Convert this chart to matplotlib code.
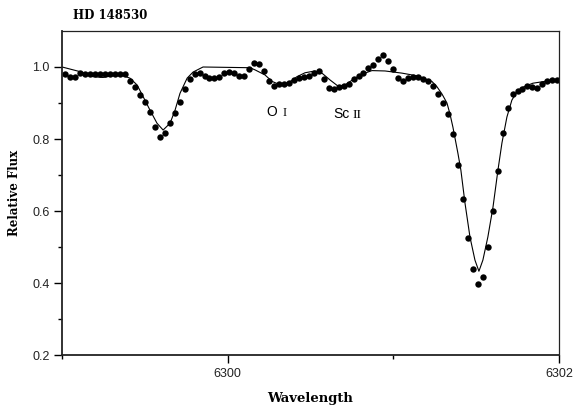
import matplotlib
matplotlib.use('Agg')
import matplotlib.pyplot as plt
from matplotlib.ticker import FixedLocator

# observed spectrum (dots)
wave_obs = [6299.02, 6299.05, 6299.08, 6299.11, 6299.14, 6299.17, 6299.20, 6299.23, 6299.26, 6299.29,
            6299.32, 6299.35, 6299.38, 6299.41, 6299.44, 6299.47, 6299.50, 6299.53, 6299.56, 6299.59,
            6299.62, 6299.65, 6299.68, 6299.71, 6299.74, 6299.77, 6299.80, 6299.83, 6299.86, 6299.89,
            6299.92, 6299.95, 6299.98, 6300.01, 6300.04, 6300.07, 6300.10, 6300.13, 6300.16, 6300.19,
            6300.22, 6300.25, 6300.28, 6300.31, 6300.34, 6300.37, 6300.40, 6300.43, 6300.46, 6300.49,
            6300.52, 6300.55, 6300.58, 6300.61, 6300.64, 6300.67, 6300.70, 6300.73, 6300.76, 6300.79,
            6300.82, 6300.85, 6300.88, 6300.91, 6300.94, 6300.97, 6301.00, 6301.03, 6301.06, 6301.09,
            6301.12, 6301.15, 6301.18, 6301.21, 6301.24, 6301.27, 6301.30, 6301.33, 6301.36, 6301.39,
            6301.42, 6301.45, 6301.48, 6301.51, 6301.54, 6301.57, 6301.60, 6301.63, 6301.66, 6301.69,
            6301.72, 6301.75, 6301.78, 6301.81, 6301.84, 6301.87, 6301.90, 6301.93, 6301.96, 6301.99]
flux_obs = [0.981, 0.972, 0.972, 0.983, 0.981, 0.980, 0.980, 0.980, 0.980, 0.980,
            0.980, 0.980, 0.980, 0.961, 0.944, 0.922, 0.903, 0.875, 0.833, 0.806,
            0.817, 0.844, 0.872, 0.903, 0.939, 0.967, 0.981, 0.983, 0.975, 0.969,
            0.969, 0.972, 0.983, 0.986, 0.983, 0.975, 0.975, 0.994, 1.011, 1.008,
            0.989, 0.961, 0.947, 0.953, 0.953, 0.956, 0.964, 0.969, 0.972, 0.975,
            0.983, 0.989, 0.967, 0.942, 0.939, 0.944, 0.947, 0.954, 0.967, 0.976,
            0.983, 0.996, 1.006, 1.022, 1.032, 1.017, 0.994, 0.969, 0.962, 0.969,
            0.972, 0.972, 0.967, 0.960, 0.947, 0.925, 0.900, 0.869, 0.814, 0.728,
            0.633, 0.525, 0.439, 0.397, 0.417, 0.500, 0.600, 0.711, 0.817, 0.886,
            0.925, 0.933, 0.940, 0.947, 0.944, 0.942, 0.953, 0.961, 0.964, 0.964]

# synthetic spectrum (line)
wave_syn = [6299.000, 6299.109, 6299.187, 6299.247, 6299.308, 6299.368, 6299.410, 6299.453,
            6299.489, 6299.531, 6299.573, 6299.610, 6299.652, 6299.682, 6299.712, 6299.755,
            6299.791, 6299.851, 6300.135, 6300.165, 6300.225, 6300.268, 6300.304, 6300.364,
            6300.418, 6300.467, 6300.527, 6300.569, 6300.618, 6300.666, 6300.708, 6300.769,
            6300.829, 6300.871, 6300.950, 6301.052, 6301.149, 6301.233, 6301.264, 6301.294,
            6301.324, 6301.342, 6301.360, 6301.390, 6301.408, 6301.433, 6301.463, 6301.493,
            6301.517, 6301.541, 6301.571, 6301.602, 6301.632, 6301.656, 6301.686, 6301.716,
            6301.746, 6301.783, 6301.843, 6301.928, 6302.000]
flux_syn = [1.000, 0.987, 0.973, 0.971, 0.976, 0.976, 0.969, 0.950,
            0.918, 0.880, 0.844, 0.825, 0.844, 0.880, 0.927, 0.969,
            0.986, 1.000, 0.998, 0.992, 0.978, 0.960, 0.953, 0.955,
            0.973, 0.984, 0.989, 0.983, 0.964, 0.947, 0.950, 0.969,
            0.983, 0.990, 0.989, 0.983, 0.975, 0.960, 0.945, 0.925,
            0.900, 0.870, 0.833, 0.761, 0.714, 0.622, 0.528, 0.464,
            0.433, 0.464, 0.528, 0.611, 0.714, 0.789, 0.861, 0.908,
            0.931, 0.944, 0.955, 0.961, 0.964]

x_major = [6300, 6302]
x_minor = [6299, 6301]
y_major = [0.2, 0.4, 0.6, 0.8, 1.0]
y_minor = [0.3, 0.5, 0.7, 0.9]

fig = plt.figure(figsize=(5.75, 4.13), dpi=100)
ax = fig.add_axes([0.108, 0.140, 0.864, 0.785])

ax.plot(wave_syn, flux_syn, color='black', lw=0.8)
ax.plot(wave_obs, flux_obs, 'o', color='black', ms=4.6, mew=0)

ax.set_xlim(6299, 6302)
ax.set_ylim(0.2, 1.1)
ax.xaxis.set_major_locator(FixedLocator(x_major))
ax.xaxis.set_minor_locator(FixedLocator(x_minor))
ax.yaxis.set_major_locator(FixedLocator(y_major))
ax.yaxis.set_minor_locator(FixedLocator(y_minor))
ax.set_xticklabels([str(v) for v in x_major])
ax.set_yticklabels(['%.1f' % v for v in y_major])
ax.tick_params(which='major', direction='out', length=6, width=1.0, labelsize=9, pad=3)
ax.tick_params(which='minor', direction='out', length=3, width=1.0)
for lab in ax.get_xticklabels() + ax.get_yticklabels():
    lab.set_fontfamily('Liberation Sans')
    lab.set_color('#222222')
ax.spines['left'].set_linewidth(1.3)
ax.spines['bottom'].set_linewidth(1.3)
ax.spines['top'].set_linewidth(0.9)
ax.spines['right'].set_linewidth(0.9)
for s in ax.spines.values():
    s.set_color('#222222')

ax.set_xlabel('Wavelength', fontfamily='DejaVu Serif', fontweight='bold', fontsize=9.5, labelpad=9)
ax.set_ylabel('Relative Flux', fontfamily='DejaVu Serif', fontweight='bold', fontsize=8.5, labelpad=8)
fig.text(0.127, 0.962, 'HD 148530', fontfamily='DejaVu Serif', fontweight='bold', fontsize=8.5,
         ha='left', va='center')

# line identifications
ax.text(6300.235, 0.875, 'O', fontfamily='Liberation Sans', fontsize=10, ha='left', va='center')
ax.text(6300.330, 0.873, 'I', fontfamily='Liberation Serif', fontsize=9, ha='left', va='center')
ax.text(6300.635, 0.870, 'Sc', fontfamily='Liberation Sans', fontsize=10, ha='left', va='center')
ax.text(6300.755, 0.868, 'II', fontfamily='Liberation Serif', fontsize=9.5, ha='left', va='center')

plt.savefig('out.png', dpi=100)
